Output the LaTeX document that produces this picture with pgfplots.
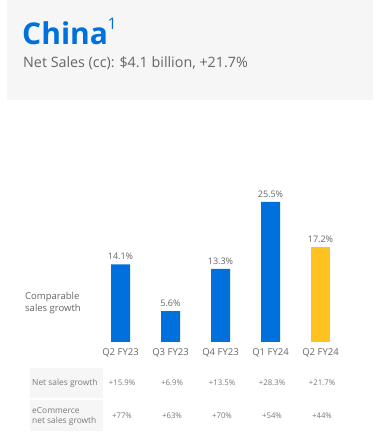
\documentclass[border=0pt]{standalone}
\usepackage{pgfplots}
\pgfplotsset{compat=1.18}
\usepackage{fontspec}
\setmainfont{Open Sans}
\definecolor{wblue}{HTML}{0071DC}
\definecolor{wyellow}{HTML}{FFC220}
\definecolor{txt}{HTML}{666666}
\definecolor{ttxt}{HTML}{7A7A7A}
\definecolor{bggray}{HTML}{F6F6F6}
\begin{document}
\begin{tikzpicture}[x=1pt,y=1pt]
\useasboundingbox (0,0) rectangle (373,440);
\fill[white] (0,0) rectangle (373,440);
\fill[bggray] (7,340) rectangle (373,440);
\node[anchor=base west, inner sep=0, text=wblue, font=\fontsize{30}{32}\selectfont\bfseries] at (22,395) {China};
\node[anchor=base west, inner sep=0, text=wblue, font=\fontsize{16}{16}\selectfont] at (107.5,410) {1};
\node[anchor=base west, inner sep=0, text=txt, font=\fontsize{14.3}{16}\selectfont] at (23,372) {Net Sales (cc): \$4.1 billion, +21.7\%};
\node[anchor=west, inner sep=0, text=txt, font=\fontsize{9.5}{11.5}\selectfont, align=left] at (25,137) {Comparable\\sales growth};
\begin{axis}[
  at={(120.5pt,98pt)}, anchor=origin,
  scale only axis, width=250pt, height=165pt,
  xmin=-0.5, xmax=4.5, ymin=0, ymax=30,
  axis lines=none, clip=false,
  xtick=\empty, ytick=\empty,
  /pgf/number format/assume math mode=true,
  nodes near coords={\pgfmathprintnumber[fixed,precision=1,fixed zerofill]{\pgfplotspointmeta}\%},
  every node near coord/.append style={text=txt, font=\fontsize{9}{10}\selectfont, yshift=1pt},
]
\addplot[ybar, bar width=19pt, bar shift=0pt, fill=wblue, draw=none] coordinates {(0,14.1) (1,5.6) (2,13.3) (3,25.5)};
\addplot[ybar, bar width=19pt, bar shift=0pt, fill=wyellow, draw=none] coordinates {(4,17.2)};
\end{axis}
\foreach \i/\lab in {0/Q2 FY23,1/Q3 FY23,2/Q4 FY23,3/Q1 FY24,4/Q2 FY24}{
  \node[text=txt, font=\fontsize{9.5}{10}\selectfont, inner sep=0] at (120.5+50*\i,87) {\lab};
}
\fill[bggray] (30,42) rectangle (103,72);
\fill[bggray] (30,9) rectangle (103,40);
\node[anchor=west, inner sep=0, text=ttxt, font=\fontsize{8.4}{9}\selectfont] at (32,57) {Net sales growth};
\node[anchor=west, inner sep=0, text=ttxt, font=\fontsize{8.4}{10}\selectfont, align=left] at (32,24) {eCommerce\\net sales growth};
\foreach \i/\v in {0/+15.9\%,1/+6.9\%,2/+13.5\%,3/+28.3\%,4/+21.7\%}{
  \node[text=ttxt, font=\fontsize{7.8}{9}\selectfont, inner sep=0] at (122+50*\i,57) {\v};
}
\foreach \i/\v in {0/+77\%,1/+63\%,2/+70\%,3/+54\%,4/+44\%}{
  \node[text=ttxt, font=\fontsize{7.8}{9}\selectfont, inner sep=0] at (122+50*\i,24) {\v};
}
\end{tikzpicture}
\end{document}
